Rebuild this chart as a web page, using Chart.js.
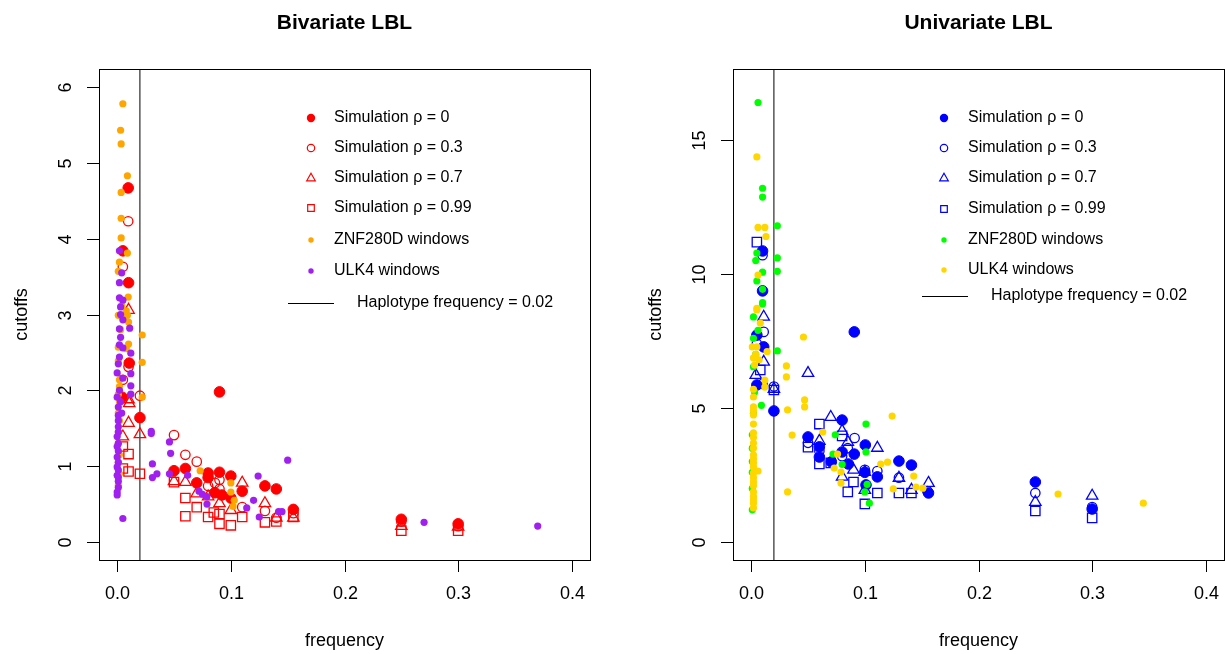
<!DOCTYPE html>
<html>
<head>
<meta charset="utf-8">
<title>LBL cutoffs vs frequency</title>
<script src="https://cdn.jsdelivr.net/npm/chart.js@4.4.0/dist/chart.umd.min.js"></script>
<style>
    html, body { margin: 0; padding: 0; background: #fff; }
    #wrap { position: relative; width: 1225px; height: 654px; overflow: hidden; }
    #wrap canvas { position: absolute; top: 0; }
</style>
</head>
<body>
<div id="wrap">
    <canvas id="biv-chart" width="612" height="654" style="left:0px"></canvas>
    <canvas id="uni-chart" width="613" height="654" style="left:612px"></canvas>
</div>
<script>
// --- DATA ---
const xTicks = [0, 0.1, 0.2, 0.3, 0.4];
const xTickLabels = ['0.0', '0.1', '0.2', '0.3', '0.4'];
const bivYTicks = [0, 1, 2, 3, 4, 5, 6];
const uniYTicks = [0, 5, 10, 15];
const hapFreq = 0.02;

// Bivariate LBL: [frequency, cutoff]
const bivRho0 = [[0.0097,4.67],[0.01,3.42],[0.005,3.84],[0.0106,2.36],[0.0044,1.91],[0.02,1.64],[0.09,1.98],
    [0.05,0.94],[0.06,0.97],[0.07,0.78],[0.08,0.91],[0.08,0.85],[0.09,0.92],[0.1,0.87],[0.11,0.67],[0.13,0.74],
    [0.14,0.70],[0.155,0.43],[0.086,0.65],[0.1,0.58],[0.092,0.62],[0.25,0.30],[0.3,0.24]];
const bivRho03 = [[0.0097,4.23],[0.005,3.63],[0.01,2.31],[0.005,2.14],[0.02,1.93],[0.05,1.41],[0.06,1.15],[0.07,1.06],
    [0.09,0.82],[0.09,0.70],[0.08,0.74],[0.086,0.78],[0.11,0.46],[0.13,0.41],[0.14,0.32],[0.155,0.38],[0.25,0.27],[0.3,0.21]];
const bivRho07 = [[0.01,3.06],[0.0106,1.83],[0.01,1.88],[0.01,1.57],[0.02,1.42],[0.005,1.39],[0.05,0.80],[0.06,0.79],
    [0.07,0.64],[0.08,0.60],[0.09,0.51],[0.1,0.42],[0.11,0.78],[0.13,0.51],[0.14,0.32],[0.155,0.32],[0.25,0.21],[0.3,0.20]];
const bivRho099 = [[0.01,1.16],[0.01,0.93],[0.02,0.90],[0.005,1.26],[0.005,0.97],[0.05,0.79],[0.06,0.58],[0.06,0.34],
    [0.07,0.46],[0.08,0.33],[0.085,0.39],[0.09,0.24],[0.09,0.37],[0.1,0.22],[0.11,0.33],[0.13,0.26],[0.14,0.27],
    [0.155,0.33],[0.25,0.15],[0.3,0.15]];
const bivZnf = [[0.005,5.78],[0.003,5.43],[0.0035,5.25],[0.009,4.83],[0.0035,4.61],[0.0035,4.27],[0.0035,4.01],
    [0.009,3.81],[0.002,3.69],[0.001,3.57],[0.0097,3.23],[0.008,3.05],[0.004,3.12],[0.001,2.99],[0.009,2.99],
    [0.01,2.9],[0.003,2.8],[0.022,2.73],[0.01,2.61],[0.001,2.57],[0.008,2.55],[0.001,2.39],[0.022,2.37],[0.002,2.14],
    [0.002,2.05],[0.001,1.95],[0.022,1.91],[0.002,1.85],[0.001,1.7],[0.002,1.6],[0.001,1.45],[0.001,1.3],
    [0.002,1.15],[0.001,1.05],[0.002,0.9],[0.001,0.75],[0.073,0.94],[0.1,0.78],[0.1,0.66],[0.103,0.55],[0.102,0.47]];
const bivUlk = [[0.002,3.84],[0.004,3.55],[0.002,3.42],[0.002,3.22],[0.005,3.19],[0.003,3.10],[0.003,3.0],[0.005,2.93],
    [0.002,2.81],[0.011,2.82],[0.003,2.7],[0.002,2.6],[0.005,2.56],[0.012,2.49],[0.002,2.44],[0.001,2.35],[0,2.23],
    [0.012,2.22],[0.005,2.16],[0.012,2.06],[0.002,2.0],[0.012,1.95],[0,1.91],[0.003,1.85],[0.001,1.78],[0.004,1.7],
    [0.001,1.67],[0.001,1.6],[0.001,1.52],[0.001,1.45],[0,1.39],[0.001,1.3],[0,1.26],[0.001,1.2],[0,1.12],
    [0.001,1.05],[0,0.99],[0.001,0.95],[0,0.88],[0.001,0.85],[0.001,0.80],[0.001,0.72],[0,0.66],[0,0.62],[0.005,0.31],
    [0.03,1.46],[0.03,1.43],[0.046,1.32],[0.047,1.17],[0.031,1.03],[0.035,0.90],[0.031,0.85],[0.046,0.90],
    [0.062,0.88],[0.072,0.67],[0.075,0.63],[0.079,0.60],[0.079,0.50],[0.114,0.45],[0.12,0.55],[0.124,0.87],
    [0.125,0.33],[0.142,0.40],[0.145,0.40],[0.15,1.08],[0.27,0.26],[0.37,0.21]];

// Univariate LBL: [frequency, cutoff]
const uniRho0 = [[0.01,10.86],[0.01,9.37],[0.005,7.72],[0.011,7.28],[0.005,5.86],[0.02,4.89],[0.05,3.92],[0.08,4.55],
    [0.06,3.55],[0.06,3.17],[0.0705,2.99],[0.08,3.36],[0.0907,3.28],[0.1004,3.62],[0.0855,2.91],[0.1,2.6],
    [0.111,2.43],[0.13,3.02],[0.141,2.87],[0.156,1.83],[0.101,2.13],[0.0907,7.84],[0.25,2.24],[0.3,1.23]];
const uniRho03 = [[0.01,10.7],[0.011,7.84],[0.005,7.4],[0.01,5.9],[0.02,5.8],[0.05,3.7],[0.06,3.4],[0.08,3.2],
    [0.085,3.5],[0.091,3.88],[0.1,2.69],[0.111,2.65],[0.13,2.4],[0.155,1.9],[0.25,1.83],[0.3,1.3]];
const uniRho07 = [[0.011,8.4],[0.011,6.72],[0.004,6.23],[0.02,5.71],[0.05,6.3],[0.07,4.66],[0.08,4.14],[0.06,3.77],
    [0.085,3.73],[0.111,3.51],[0.09,2.69],[0.1,2.61],[0.13,2.39],[0.141,1.94],[0.156,2.2],[0.08,2.43],[0.1,1.94],
    [0.25,1.49],[0.3,1.72]];
const uniRho099 = [[0.005,11.19],[0.008,6.42],[0.02,5.67],[0.06,4.4],[0.05,3.54],[0.06,2.91],[0.07,2.95],[0.08,3.96],
    [0.09,2.24],[0.085,1.87],[0.111,1.83],[0.1,1.42],[0.13,1.83],[0.141,1.83],[0.25,1.16],[0.3,0.9]];
const uniZnf = [[0.006,16.4],[0.01,13.2],[0.01,12.87],[0.023,11.8],[0.023,10.6],[0.023,10.1],[0.005,10.78],[0.004,10.5],
    [0.01,10.07],[0.005,9.74],[0.01,9.43],[0.01,8.93],[0.01,8.88],[0.002,8.4],[0.006,7.9],[0.002,7.6],[0.023,7.13],
    [0.004,7.0],[0.002,6.54],[0.003,5.6],[0.009,5.1],[0.002,4.8],[0.001,4.0],[0.001,3.5],[0.001,3.0],[0.001,2.6],
    [0.001,2.0],[0.001,1.2],[0.101,4.4],[0.074,4.0],[0.072,3.28],[0.08,2.9],[0.101,3.36],[0.102,2.15],[0.1,1.87],
    [0.104,1.45]];
const uniUlk = [[0.005,14.37],[0.006,11.74],[0.012,11.74],[0.013,11.4],[0.006,9.96],[0.005,8.72],[0.005,8.66],
    [0.008,8.17],[0.001,7.28],[0.005,7.28],[0.014,7.1],[0.004,7.0],[0.002,6.87],[0.007,6.8],[0.003,6.6],[0.012,6.04],
    [0.012,5.78],[0.002,5.7],[0.002,5.41],[0.002,5.04],[0.002,4.9],[0.002,4.74],[0.002,4.4],[0.002,4.07],[0.002,3.9],
    [0.002,3.69],[0.002,3.5],[0.002,3.25],[0.002,3.1],[0.002,2.95],[0.002,2.8],[0.006,2.65],[0.002,2.57],[0.002,2.4],
    [0.002,2.24],[0.002,2.1],[0.002,1.87],[0.002,1.7],[0.002,1.57],[0.002,1.45],[0.002,1.27],[0.046,7.65],[0.031,6.57],
    [0.031,6.16],[0.047,5.3],[0.047,5.04],[0.032,4.93],[0.036,3.99],[0.032,1.87],[0.124,4.7],[0.063,4.1],[0.073,2.76],
    [0.079,2.61],[0.079,2.2],[0.076,3.28],[0.114,2.91],[0.12,2.98],[0.143,2.46],[0.145,2.05],[0.151,2.01],[0.125,1.98],
    [0.27,1.79],[0.345,1.45]];

// --- STYLE ---
const FONT = '"Liberation Sans", Arial, Helvetica, sans-serif';
const toPoints = (arr) => arr.map(([x, y]) => ({ x, y }));

function markerDatasets(sim, simColor, wins, winColors) {
    const clear = 'rgba(0,0,0,0)';
    return [
        { data: toPoints(sim[0]), pointStyle: 'circle', pointRadius: 5.3, backgroundColor: simColor, borderColor: simColor, borderWidth: 1, order: 5 },
        { data: toPoints(sim[1]), pointStyle: 'circle', pointRadius: 4.7, backgroundColor: clear, borderColor: simColor, borderWidth: 1.3, order: 4 },
        { data: toPoints(sim[2]), pointStyle: 'triangle', pointRadius: 6.6, backgroundColor: clear, borderColor: simColor, borderWidth: 1.3, order: 3 },
        { data: toPoints(sim[3]), pointStyle: 'rect', pointRadius: 6.6, backgroundColor: clear, borderColor: simColor, borderWidth: 1.3, order: 2 },
        { data: toPoints(wins[0]), pointStyle: 'circle', pointRadius: 3.6, backgroundColor: winColors[0], borderWidth: 0, order: 1 },
        { data: toPoints(wins[1]), pointStyle: 'circle', pointRadius: 3.6, backgroundColor: winColors[1], borderWidth: 0, order: 0 },
    ];
}

function drawMarker(ctx, kind, x, y, color) {
    ctx.save();
    ctx.strokeStyle = color;
    ctx.fillStyle = color;
    ctx.lineWidth = 1.2;
    ctx.beginPath();
    if (kind === 'filled') { ctx.arc(x, y, 4.2, 0, Math.PI * 2); ctx.fill(); }
    else if (kind === 'open') { ctx.arc(x, y, 3.7, 0, Math.PI * 2); ctx.stroke(); }
    else if (kind === 'tri') { ctx.moveTo(x, y - 4.8); ctx.lineTo(x + 4.3, y + 2.8); ctx.lineTo(x - 4.3, y + 2.8); ctx.closePath(); ctx.stroke(); }
    else if (kind === 'sq') { ctx.rect(x - 3.3, y - 3.3, 6.6, 6.6); ctx.stroke(); }
    else if (kind === 'dot') { ctx.arc(x, y, 2.7, 0, Math.PI * 2); ctx.fill(); }
    ctx.restore();
}

// frame, axes, titles and legend drawn in base-graphics style
const baseFramePlugin = {
    id: 'baseFrame',
    afterDraw(chart, args, opts) {
        const { ctx, chartArea: a, scales: { x, y } } = chart;
        const cx = (a.left + a.right) / 2;
        const cy = (a.top + a.bottom) / 2;
        ctx.save();
        ctx.strokeStyle = '#000';
        ctx.fillStyle = '#000';
        ctx.lineWidth = 1;
        ctx.strokeRect(a.left + 0.5, a.top + 0.5, a.right - a.left, a.bottom - a.top);

        // x axis
        ctx.font = `18px ${FONT}`;
        ctx.textAlign = 'center';
        ctx.textBaseline = 'middle';
        ctx.beginPath();
        xTicks.forEach((v, i) => {
            const px = Math.round(x.getPixelForValue(v)) + 0.5;
            ctx.moveTo(px, a.bottom);
            ctx.lineTo(px, a.bottom + 12);
            ctx.fillText(xTickLabels[i], px, a.bottom + 34);
        });
        ctx.stroke();

        // y axis, labels turned like the axis title
        ctx.beginPath();
        opts.yTicks.forEach((v) => {
            const py = Math.round(y.getPixelForValue(v)) + 0.5;
            ctx.moveTo(a.left, py);
            ctx.lineTo(a.left - 12, py);
            ctx.save();
            ctx.translate(a.left - 33, py);
            ctx.rotate(-Math.PI / 2);
            ctx.fillText(String(v), 0, 0);
            ctx.restore();
        });
        ctx.stroke();

        ctx.fillText('frequency', cx, a.bottom + 81);
        ctx.save();
        ctx.translate(a.left - 77, cy);
        ctx.rotate(-Math.PI / 2);
        ctx.fillText('cutoffs', 0, 0);
        ctx.restore();

        ctx.font = `bold 21px ${FONT}`;
        ctx.fillText(opts.title, cx, 23);

        // legend
        ctx.font = `16px ${FONT}`;
        ctx.textAlign = 'left';
        opts.legend.forEach((row) => {
            drawMarker(ctx, row.kind, opts.legendMarkerX, row.y, row.color);
            ctx.fillStyle = '#000';
            ctx.fillText(row.label, opts.legendTextX, row.y);
        });
        const ly = Math.round(opts.lineRow.y) + 0.5;
        ctx.beginPath();
        ctx.moveTo(opts.lineRow.x0, ly);
        ctx.lineTo(opts.lineRow.x1, ly);
        ctx.stroke();
        ctx.fillText('Haplotype frequency = 0.02', opts.lineRow.textX, opts.lineRow.y);
        ctx.restore();
    }
};

function legendRows(simColor, winColors, rowsY) {
    return [
        { kind: 'filled', color: simColor, label: 'Simulation ρ = 0', y: rowsY[0] },
        { kind: 'open', color: simColor, label: 'Simulation ρ = 0.3', y: rowsY[1] },
        { kind: 'tri', color: simColor, label: 'Simulation ρ = 0.7', y: rowsY[2] },
        { kind: 'sq', color: simColor, label: 'Simulation ρ = 0.99', y: rowsY[3] },
        { kind: 'dot', color: winColors[0], label: 'ZNF280D windows', y: rowsY[4] },
        { kind: 'dot', color: winColors[1], label: 'ULK4 windows', y: rowsY[5] },
    ];
}

function buildPanel(canvasId, cfg) {
    const ctx = document.getElementById(canvasId).getContext('2d');
    const datasets = markerDatasets(cfg.sim, cfg.simColor, cfg.wins, cfg.winColors).map(d => ({ type: 'scatter', ...d }));
    // vertical reference line at the haplotype frequency
    datasets.push({
        type: 'line',
        data: [{ x: hapFreq, y: cfg.yMin }, { x: hapFreq, y: cfg.yMax }],
        borderColor: '#000', borderWidth: 1, pointRadius: 0, order: 9,
    });
    return new Chart(ctx, {
        data: { datasets },
        options: {
            responsive: false,
            animation: false,
            events: [],
            layout: { padding: cfg.padding, autoPadding: false },
            scales: {
                x: { type: 'linear', min: -0.016, max: 0.416, display: false },
                y: { type: 'linear', min: cfg.yMin, max: cfg.yMax, display: false },
            },
            plugins: {
                legend: { display: false },
                tooltip: { enabled: false },
                baseFrame: {
                    title: cfg.title,
                    yTicks: cfg.yTicks,
                    legend: legendRows(cfg.simColor, cfg.winColors, cfg.legendY),
                    legendMarkerX: cfg.legendMarkerX,
                    legendTextX: cfg.legendTextX,
                    lineRow: cfg.lineRow,
                },
            },
        },
        plugins: [baseFramePlugin],
    });
}

buildPanel('biv-chart', {
    title: 'Bivariate LBL',
    sim: [bivRho0, bivRho03, bivRho07, bivRho099],
    simColor: '#FF0000',
    wins: [bivZnf, bivUlk],
    winColors: ['#FFA500', '#A020F0'],
    yMin: -0.237, yMax: 6.238, yTicks: bivYTicks,
    padding: { left: 99, right: 22, top: 69, bottom: 94 },
    legendY: [118, 148, 178, 208, 240, 271],
    legendMarkerX: 311, legendTextX: 334,
    lineRow: { y: 303, x0: 288, x1: 334, textX: 357 },
});

buildPanel('uni-chart', {
    title: 'Univariate LBL',
    sim: [uniRho0, uniRho03, uniRho07, uniRho099],
    simColor: '#0000FF',
    wins: [uniZnf, uniUlk],
    winColors: ['#00FF00', '#FFD700'],
    yMin: -0.672, yMax: 17.65, yTicks: uniYTicks,
    padding: { left: 121, right: 1, top: 69, bottom: 94 },
    legendY: [118, 148, 178, 209, 240, 270],
    legendMarkerX: 332, legendTextX: 356,
    lineRow: { y: 296, x0: 310, x1: 356, textX: 379 },
});
</script>
</body>
</html>
